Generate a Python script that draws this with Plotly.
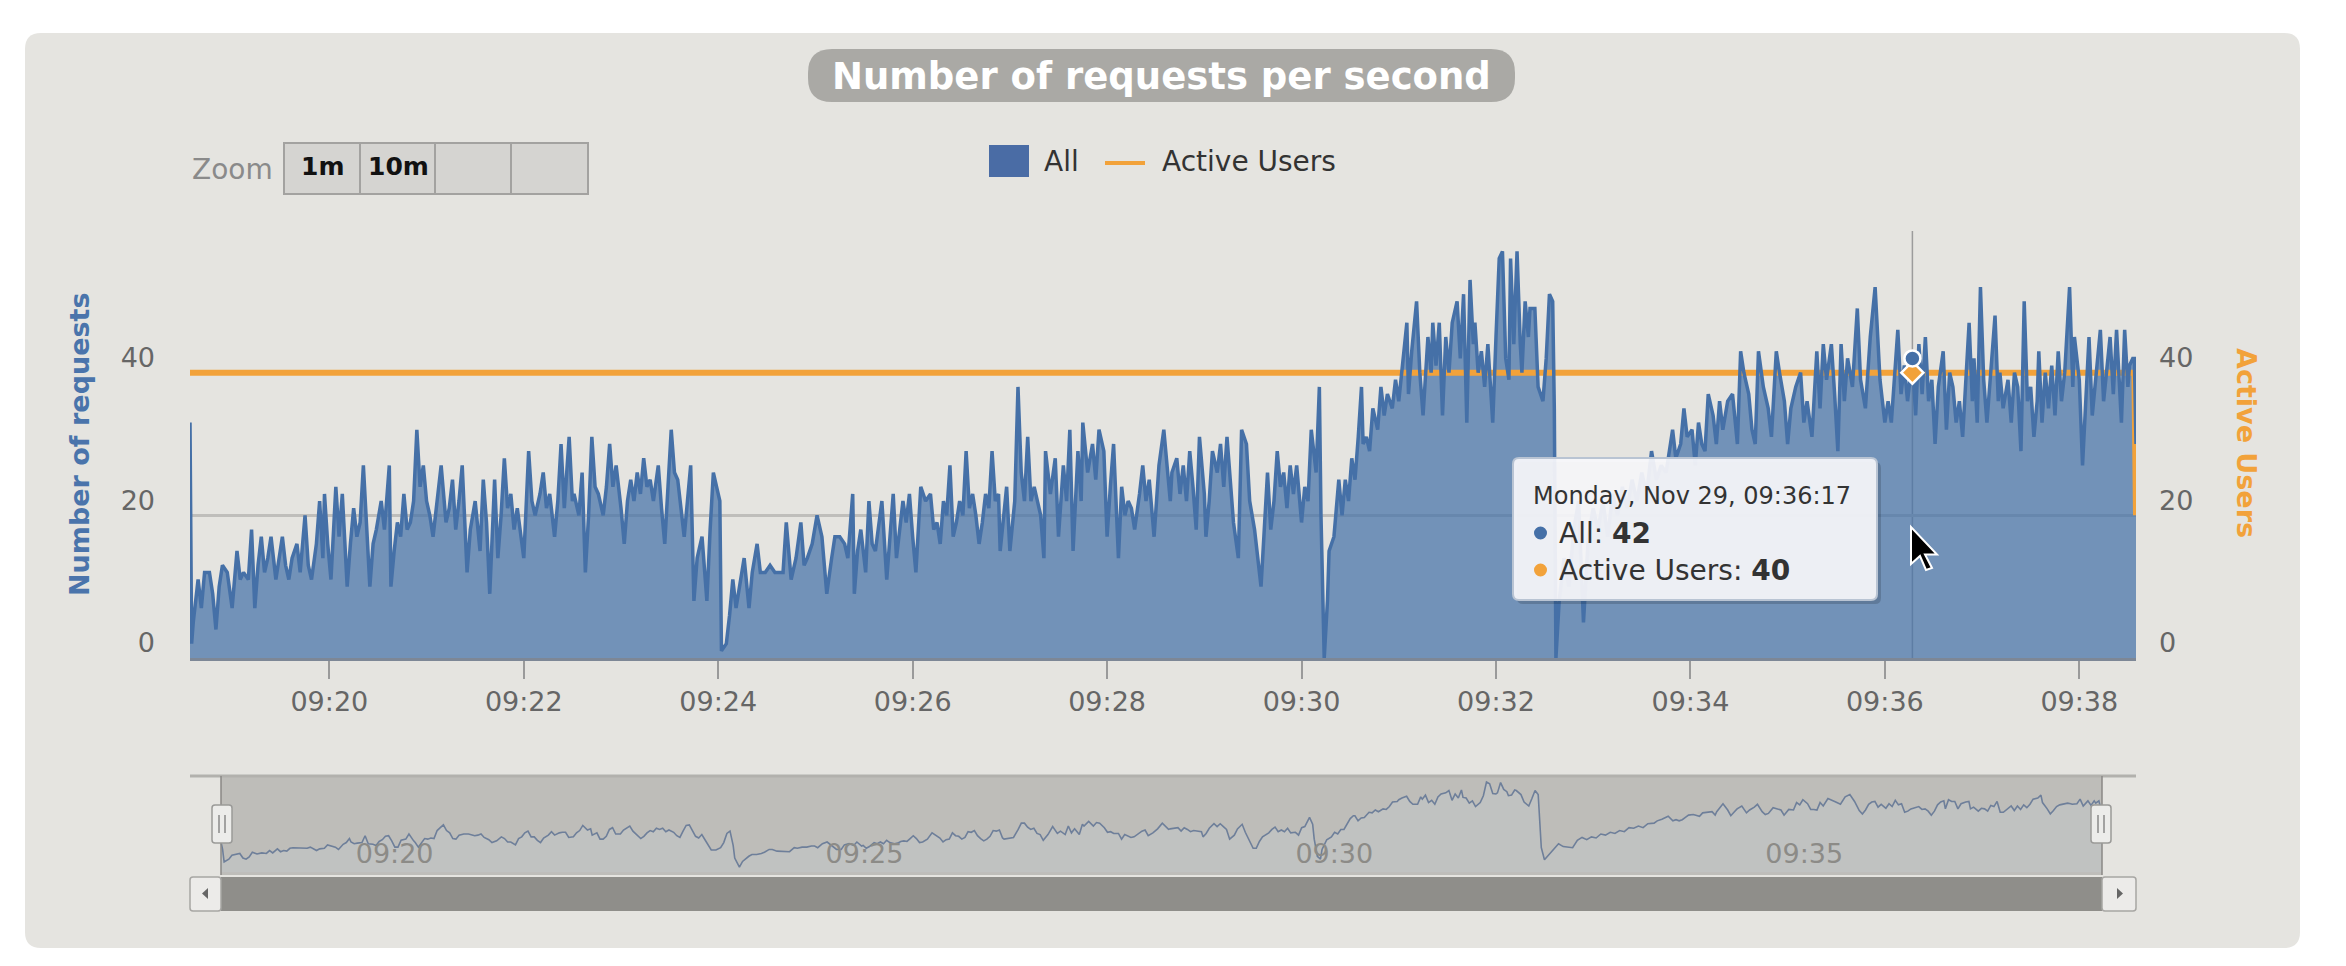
import numpy as np
import pandas as pd
import plotly.graph_objects as go

# ---------------- data ----------------
START = pd.Timestamp("2021-11-29 09:18:34")

# (seconds after 09:18:34, requests per second)
requests_0918_0925 = [
    (0, 33), (1, 2), (2, 5), (5, 11), (7, 7), (9, 12), (12, 12), (14, 9), (16, 4), (18, 10),
    (20, 13), (23, 12), (26, 7), (29, 15), (31, 11), (33, 12), (36, 11), (38, 18), (40, 7), (42, 13),
    (44, 17), (46, 12), (48, 14), (50, 17), (53, 11), (55, 14), (57, 17), (59, 13), (61, 11), (63, 14),
    (66, 16), (68, 12), (71, 20), (73, 13), (75, 11), (78, 16), (80, 22), (82, 14), (83, 23), (85, 16),
    (87, 11), (90, 24), (92, 17), (94, 23), (97, 10), (99, 16), (101, 21), (103, 17), (105, 19), (107, 27),
    (109, 18), (111, 10), (113, 16), (115, 18), (118, 22), (120, 18), (123, 27), (124, 10), (126, 15), (128, 19),
    (130, 17), (132, 23), (134, 18), (136, 19), (138, 22), (140, 32), (142, 24), (144, 27), (146, 22), (148, 20),
    (150, 17), (152, 21), (155, 27), (158, 19), (160, 21), (162, 25), (164, 18), (166, 22), (168, 27), (171, 12),
    (173, 18), (176, 22), (179, 15), (181, 25), (183, 19), (185, 9), (188, 25), (190, 14), (192, 20), (194, 28),
    (196, 21), (198, 23), (200, 18), (202, 21), (204, 17), (206, 14), (209, 29), (211, 22), (213, 20), (216, 23),
    (218, 26), (220, 21), (222, 23), (225, 17), (227, 22), (229, 30), (231, 21), (234, 31), (236, 22), (237, 23),
    (240, 20), (242, 26), (244, 12), (246, 20), (248, 31), (250, 24), (252, 23), (255, 20), (257, 24), (259, 30),
    (261, 24), (263, 27), (266, 21), (268, 16), (270, 22), (272, 25), (274, 22), (276, 26), (278, 23), (280, 28),
    (282, 24), (284, 25), (286, 22), (289, 27), (291, 21), (293, 16), (295, 24), (297, 32), (299, 26), (301, 25),
    (303, 21), (305, 17), (307, 22), (309, 27), (311, 8), (313, 14), (316, 17), (319, 8), (321, 18), (323, 26),
    (325, 24), (327, 22), (328, 1), (331, 2), (333, 6), (335, 11), (337, 7), (339, 10), (342, 14), (345, 7),
    (347, 12), (350, 16), (352, 12), (355, 12), (358, 13), (361, 12), (363, 12), (366, 12), (368, 19), (371, 11),
    (374, 14), (377, 19), (379, 13), (381, 14), (384, 16), (387, 20), (390, 17), (393, 9), (396, 14), (398, 17),
    (401, 17),
]

requests_0925_0932 = [
    (404, 16), (406, 14), (409, 23), (410, 9), (412, 15), (414, 18), (417, 12), (419, 22), (421, 16), (423, 15),
    (425, 19), (427, 22), (430, 11), (432, 17), (434, 23), (436, 14), (438, 18), (440, 22), (442, 19), (444, 23),
    (446, 17), (448, 12), (451, 24), (454, 22), (457, 23), (459, 18), (461, 19), (463, 16), (465, 22), (467, 20),
    (469, 27), (471, 17), (473, 19), (475, 22), (477, 20), (479, 29), (481, 21), (483, 23), (485, 20), (487, 16),
    (489, 19), (491, 23), (493, 21), (495, 29), (497, 22), (499, 23), (500, 15), (502, 20), (504, 24), (506, 15),
    (509, 22), (511, 38), (513, 26), (515, 22), (517, 31), (519, 22), (521, 24), (523, 22), (525, 20), (527, 14),
    (528, 29), (531, 23), (534, 28), (536, 17), (539, 27), (541, 22), (543, 32), (545, 15), (548, 29), (550, 22),
    (551, 33), (554, 26), (557, 30), (559, 25), (561, 32), (564, 29), (566, 17), (568, 24), (570, 30), (573, 14),
    (575, 24), (577, 20), (579, 22), (581, 21), (583, 18), (586, 23), (588, 27), (590, 22), (592, 25), (595, 17),
    (598, 27), (601, 32), (603, 27), (605, 22), (606, 26), (609, 28), (611, 23), (613, 27), (615, 22), (617, 29),
    (619, 24), (621, 18), (623, 31), (626, 23), (627, 17), (629, 22), (631, 29), (634, 26), (636, 30), (638, 24),
    (640, 31), (642, 25), (644, 19), (647, 14), (649, 32), (652, 30), (654, 22), (657, 18), (659, 14), (661, 10),
    (663, 18), (665, 26), (667, 18), (669, 22), (671, 29), (673, 24), (675, 26), (677, 21), (679, 27), (681, 23),
    (683, 27), (686, 19), (688, 24), (690, 22), (692, 32), (695, 26), (697, 38), (698, 20), (700, 0), (702, 8),
    (703, 15), (706, 17), (709, 25), (711, 20), (713, 25), (715, 22), (717, 28), (719, 25), (721, 31), (723, 38),
    (724, 30), (726, 31), (728, 29), (730, 35), (733, 32), (735, 38), (737, 34), (739, 37), (742, 35), (744, 39),
    (746, 36), (748, 40), (751, 47), (752, 37), (754, 43), (757, 50), (759, 40), (761, 34), (764, 45), (766, 40),
    (767, 47), (769, 41), (771, 47), (773, 34), (775, 45), (777, 40), (779, 47), (782, 50), (784, 42), (786, 51),
    (788, 33), (790, 53), (792, 44), (793, 47), (795, 40), (797, 43), (799, 38), (801, 44), (804, 33), (806, 45),
]

requests_0932_0938 = [
    (808, 56), (810, 57), (812, 42), (814, 39), (815, 56), (817, 44), (819, 57), (821, 44), (822, 40), (824, 50),
    (826, 45), (827, 49), (830, 49), (832, 38), (835, 36), (837, 42), (839, 51), (841, 50), (842, 35), (843, 0),
    (845, 8), (848, 14), (851, 10), (854, 18), (857, 22), (860, 5), (863, 17), (866, 21), (869, 18), (872, 22),
    (875, 17), (878, 23), (881, 20), (884, 24), (887, 21), (890, 25), (893, 22), (896, 26), (899, 23), (902, 29),
    (905, 25), (908, 27), (911, 26), (915, 32), (917, 28), (920, 30), (922, 35), (924, 31), (927, 32), (929, 27),
    (931, 33), (933, 30), (935, 29), (937, 37), (940, 34), (942, 30), (944, 36), (946, 32), (949, 36), (952, 37),
    (954, 33), (955, 30), (957, 43), (959, 40), (962, 37), (964, 32), (966, 30), (968, 43), (971, 38), (974, 35),
    (976, 31), (979, 43), (981, 40), (984, 36), (986, 30), (988, 35), (991, 38), (994, 40), (996, 33), (998, 36),
    (1001, 31), (1004, 43), (1006, 35), (1008, 44), (1010, 39), (1013, 44), (1015, 37), (1017, 29), (1019, 44), (1021, 36),
    (1023, 42), (1026, 38), (1029, 49), (1031, 39), (1034, 35), (1037, 45), (1040, 52), (1043, 39), (1046, 33), (1048, 36),
    (1050, 33), (1052, 40), (1054, 46), (1056, 37), (1058, 41), (1060, 36), (1063, 42), (1065, 34), (1067, 44), (1069, 37),
    (1071, 45), (1073, 36), (1075, 39), (1077, 30), (1079, 38), (1082, 43), (1084, 32), (1086, 40), (1088, 38), (1090, 33),
    (1092, 36), (1094, 31), (1096, 40), (1098, 47), (1100, 36), (1101, 42), (1103, 33), (1105, 52), (1107, 39), (1109, 33),
    (1111, 39), (1114, 48), (1116, 36), (1117, 40), (1119, 35), (1122, 39), (1124, 33), (1126, 40), (1128, 38), (1130, 29),
    (1132, 50), (1134, 36), (1136, 38), (1138, 31), (1140, 36), (1141, 43), (1143, 33), (1145, 40), (1147, 35), (1149, 41),
    (1151, 34), (1153, 43), (1155, 36), (1157, 40), (1160, 52), (1162, 38), (1163, 45), (1166, 39), (1168, 27), (1170, 36),
    (1172, 45), (1174, 34), (1176, 39), (1179, 46), (1181, 36), (1182, 38), (1185, 45), (1187, 37), (1189, 46), (1192, 33),
    (1194, 46), (1196, 38), (1197, 41), (1199, 42), (1200, 42), (1201, 30),
]

active_users_sec = [0, 1200, 1201]
active_users_val = [40, 40, 20]

y_tick_vals = [0, 20, 40, 60]
y_tick_text = ["0", "20", "40", ""]
zoom_buttons = ["1m", "10m", "", ""]
hover_sec = 1063            # tooltip point: 09:36:17

# ---------------- helpers ----------------
W, H = 2346, 966
FONT = "DejaVu Sans"
BLUE = "#4570a7"
ORANGE = "#f2a23a"


def X(px):
    return px / W


def Y(py):
    return 1 - py / H


def rrect_path(x0, y0, x1, y1, r):
    return (f"M {X(x0 + r)},{Y(y0)} L {X(x1 - r)},{Y(y0)} Q {X(x1)},{Y(y0)} {X(x1)},{Y(y0 + r)} "
            f"L {X(x1)},{Y(y1 - r)} Q {X(x1)},{Y(y1)} {X(x1 - r)},{Y(y1)} "
            f"L {X(x0 + r)},{Y(y1)} Q {X(x0)},{Y(y1)} {X(x0)},{Y(y1 - r)} "
            f"L {X(x0)},{Y(y0 + r)} Q {X(x0)},{Y(y0)} {X(x0 + r)},{Y(y0)} Z")


def T(sec):
    return START + pd.to_timedelta(sec, unit="s")


req = sorted(requests_0918_0925 + requests_0925_0932 + requests_0932_0938)
req_sec = np.array([p[0] for p in req], dtype=float)
req_val = np.array([p[1] for p in req], dtype=float)
req_time = T(req_sec)
act_time = T(np.array(active_users_sec, dtype=float))

hover_idx = int(np.where(req_sec == hover_sec)[0][0])
hover_time = req_time[hover_idx]
hover_val = req_val[hover_idx]
hover_act = active_users_val[0]

# navigator series: the library groups / smooths the data
nav_val = pd.Series(req_val).rolling(3, center=True, min_periods=1).mean().values

fig = go.Figure()

# main area fill
fig.add_trace(go.Scatter(x=req_time, y=req_val, mode="lines", line=dict(width=0, color=BLUE),
                         fill="tozeroy", fillcolor="rgba(69,114,167,0.72)", hoverinfo="skip",
                         showlegend=False, xaxis="x", yaxis="y"))
# active users
fig.add_trace(go.Scatter(x=act_time, y=active_users_val, mode="lines",
                         line=dict(color=ORANGE, width=6), showlegend=False, xaxis="x", yaxis="y"))
# main line on top
fig.add_trace(go.Scatter(x=req_time, y=req_val, mode="lines", line=dict(color=BLUE, width=3.5),
                         showlegend=False, xaxis="x", yaxis="y"))
# hover markers (right axis overlay, same scale)
fig.add_trace(go.Scatter(x=[hover_time], y=[hover_act], mode="markers",
                         marker=dict(symbol="diamond", size=17, color=ORANGE, line=dict(color="white", width=2.5)),
                         showlegend=False, xaxis="x", yaxis="y2"))
fig.add_trace(go.Scatter(x=[hover_time], y=[hover_val], mode="markers",
                         marker=dict(symbol="circle", size=16, color=BLUE, line=dict(color="white", width=2.5)),
                         showlegend=False, xaxis="x", yaxis="y2"))
# navigator series
fig.add_trace(go.Scatter(x=req_time, y=nav_val, mode="lines", line=dict(color="#6e7f9a", width=1.6),
                         fill="tozeroy", fillcolor="rgba(205,218,235,0.18)",
                         showlegend=False, xaxis="x2", yaxis="y3"))

tickfont = dict(family=FONT, size=27, color="#666666")

fig.update_layout(
    width=W, height=H, margin=dict(l=0, r=0, t=0, b=0, pad=0, autoexpand=False),
    paper_bgcolor="white", plot_bgcolor="rgba(0,0,0,0)",
    showlegend=False,
    xaxis=dict(domain=[X(190), X(2136)], anchor="y", type="date",
               range=[T(0), T(1201)], tick0="2021-11-29 09:20:00", dtick=120000, tickformat="%H:%M",
               ticks="outside", ticklen=18, tickwidth=2, tickcolor="#9a9a9a",
               showline=True, linecolor="#7d8796", linewidth=3, showgrid=False, zeroline=False,
               tickfont=tickfont, automargin=False),
    yaxis=dict(domain=[Y(658), Y(230)], anchor="x", range=[0, 60],
               tickvals=y_tick_vals, ticktext=y_tick_text, ticks="",
               showgrid=True, gridcolor="#bfbebb", gridwidth=2.5, zeroline=False, showline=False,
               tickfont=tickfont, ticklabelstandoff=34, ticklabelshift=-15, automargin=False),
    yaxis2=dict(overlaying="y", side="right", anchor="x", range=[0, 60],
                tickvals=y_tick_vals, ticktext=y_tick_text, ticks="",
                showgrid=False, zeroline=False, showline=False,
                tickfont=tickfont, ticklabelstandoff=22, ticklabelshift=-15, automargin=False),
    xaxis2=dict(domain=[X(190), X(2136)], anchor="y3", type="date",
                range=[T(-19.8), T(1222.7)], tick0="2021-11-29 09:20:00", dtick=300000, tickformat="%H:%M",
                ticks="", ticklabelposition="inside right", showgrid=False, showline=False, zeroline=False,
                tickfont=dict(family=FONT, size=27, color="#8c8b87"), automargin=False),
    yaxis3=dict(domain=[Y(874), Y(778)], anchor="x2", range=[-1, 55], visible=False),
)

shapes = []
# card
shapes.append(dict(type="path", path=rrect_path(25, 33, 2300, 948, 16), xref="paper", yref="paper",
                   fillcolor="#e5e4e0", line=dict(width=0), layer="below"))
# title pill
shapes.append(dict(type="path", path=rrect_path(808, 49, 1515, 102, 24), xref="paper", yref="paper",
                   fillcolor="#aaa9a5", line=dict(width=0), layer="below"))
# zoom buttons
shapes.append(dict(type="rect", x0=X(284), x1=X(588), y0=Y(194), y1=Y(143), xref="paper", yref="paper",
                   fillcolor="#d5d4d1", line=dict(color="#a3a2a0", width=2), layer="below"))
for bx in (360, 435, 511):
    shapes.append(dict(type="line", x0=X(bx), x1=X(bx), y0=Y(194), y1=Y(143), xref="paper", yref="paper",
                       line=dict(color="#a3a2a0", width=2), layer="below"))
# legend symbols
shapes.append(dict(type="rect", x0=X(989), x1=X(1029), y0=Y(177), y1=Y(145), xref="paper", yref="paper",
                   fillcolor="#4a6ca5", line=dict(width=0), layer="below"))
shapes.append(dict(type="line", x0=X(1105), x1=X(1145), y0=Y(163), y1=Y(163), xref="paper", yref="paper",
                   line=dict(color=ORANGE, width=4), layer="below"))
# crosshair
shapes.append(dict(type="line", x0=hover_time, x1=hover_time, y0=Y(658), y1=Y(231), xref="x", yref="paper",
                   line=dict(color="#9c9c9c", width=1.5), layer="below"))

# navigator
shapes.append(dict(type="rect", x0=X(221), x1=X(2102), y0=Y(875), y1=Y(777), xref="paper", yref="paper",
                   fillcolor="#bebdb9", line=dict(width=0), layer="below"))
shapes.append(dict(type="line", x0=X(190), x1=X(2136), y0=Y(776), y1=Y(776), xref="paper", yref="paper",
                   line=dict(color="#b2b1ad", width=3), layer="below"))
for hx in (221, 2102):
    shapes.append(dict(type="line", x0=X(hx), x1=X(hx), y0=Y(875), y1=Y(776), xref="paper", yref="paper",
                       line=dict(color="#8a8986", width=1.5), layer="above"))
for hx in (222, 2101):
    shapes.append(dict(type="path", path=rrect_path(hx - 10, 805, hx + 10, 843, 3), xref="paper", yref="paper",
                       fillcolor="#ececea", line=dict(color="#9a9a98", width=1.5), layer="above"))
    for gx in (hx - 3, hx + 3):
        shapes.append(dict(type="line", x0=X(gx), x1=X(gx), y0=Y(833), y1=Y(815), xref="paper", yref="paper",
                           line=dict(color="#8a8a88", width=1.5), layer="above"))
# scrollbar
shapes.append(dict(type="rect", x0=X(221), x1=X(2102), y0=Y(911), y1=Y(877), xref="paper", yref="paper",
                   fillcolor="#8f8e8a", line=dict(width=0), layer="below"))
for bx0, bx1 in ((190, 221), (2102, 2136)):
    shapes.append(dict(type="path", path=rrect_path(bx0, 877, bx1, 911, 3), xref="paper", yref="paper",
                       fillcolor="#ecebe9", line=dict(color="#a7a6a3", width=1.5), layer="below"))
shapes.append(dict(type="path", path=f"M {X(208)},{Y(888)} L {X(208)},{Y(899)} L {X(202)},{Y(893.5)} Z",
                   xref="paper", yref="paper", fillcolor="#666", line=dict(width=0), layer="below"))
shapes.append(dict(type="path", path=f"M {X(2117)},{Y(888)} L {X(2117)},{Y(899)} L {X(2123)},{Y(893.5)} Z",
                   xref="paper", yref="paper", fillcolor="#666", line=dict(width=0), layer="below"))

# tooltip
shapes.append(dict(type="path", path=rrect_path(1517, 462, 1881, 604, 6), xref="paper", yref="paper",
                   fillcolor="rgba(0,0,0,0.16)", line=dict(width=0), layer="above"))
shapes.append(dict(type="path", path=rrect_path(1513, 458, 1877, 600, 6), xref="paper", yref="paper",
                   fillcolor="rgba(247,248,251,0.93)", line=dict(color="#b9c4d3", width=2), layer="above"))
for cy, col in ((533, BLUE), (570, ORANGE)):
    shapes.append(dict(type="circle", x0=X(1534), x1=X(1547), y0=Y(cy + 6.5), y1=Y(cy - 6.5),
                       xref="paper", yref="paper", fillcolor=col, line=dict(width=0), layer="above"))
# mouse pointer
cx, cy = 1911, 527
pts = [(0, 0), (0, 37), (9, 29), (15, 43), (21, 41), (14, 27.5), (26, 27.5)]
path = "M " + " L ".join(f"{X(cx + a)},{Y(cy + b)}" for a, b in pts) + " Z"
shapes.append(dict(type="path", path=path, xref="paper", yref="paper", fillcolor="black",
                   line=dict(color="white", width=2), layer="above"))

fig.update_layout(shapes=shapes)

ann = []


def text(x, y, s, size, color, xanchor="left", bold=False, angle=0):
    ann.append(dict(x=X(x), y=Y(y), xref="paper", yref="paper", text=f"<b>{s}</b>" if bold else s,
                    showarrow=False, xanchor=xanchor, yanchor="middle", textangle=angle,
                    font=dict(family=FONT, size=size, color=color)))


text(1161, 76, "Number of requests per second", 37, "white", xanchor="center", bold=True)
text(190, 169, "Zoom", 28, "#8a8a8a")
for i, lab in enumerate(zoom_buttons):
    if lab:
        text(322 + i * 76, 166, lab, 25, "#111111", xanchor="center", bold=True)
text(1042, 162, "All", 28, "#333333")
text(1160, 162, "Active Users", 28, "#333333")
text(79, 444, "Number of requests", 27, "#4a74ab", xanchor="center", bold=True, angle=-90)
text(2247, 443, "Active Users", 27, ORANGE, xanchor="center", bold=True, angle=90)

text(1531, 496, hover_time.strftime("%A, %b %d, %H:%M:%S"), 24, "#333333")
text(1557, 533, f"All: <b>{int(hover_val)}</b>", 28, "#333333")
text(1557, 570, f"Active Users: <b>{int(hover_act)}</b>", 28, "#333333")

fig.update_layout(annotations=ann)

fig.write_html("out.html")
